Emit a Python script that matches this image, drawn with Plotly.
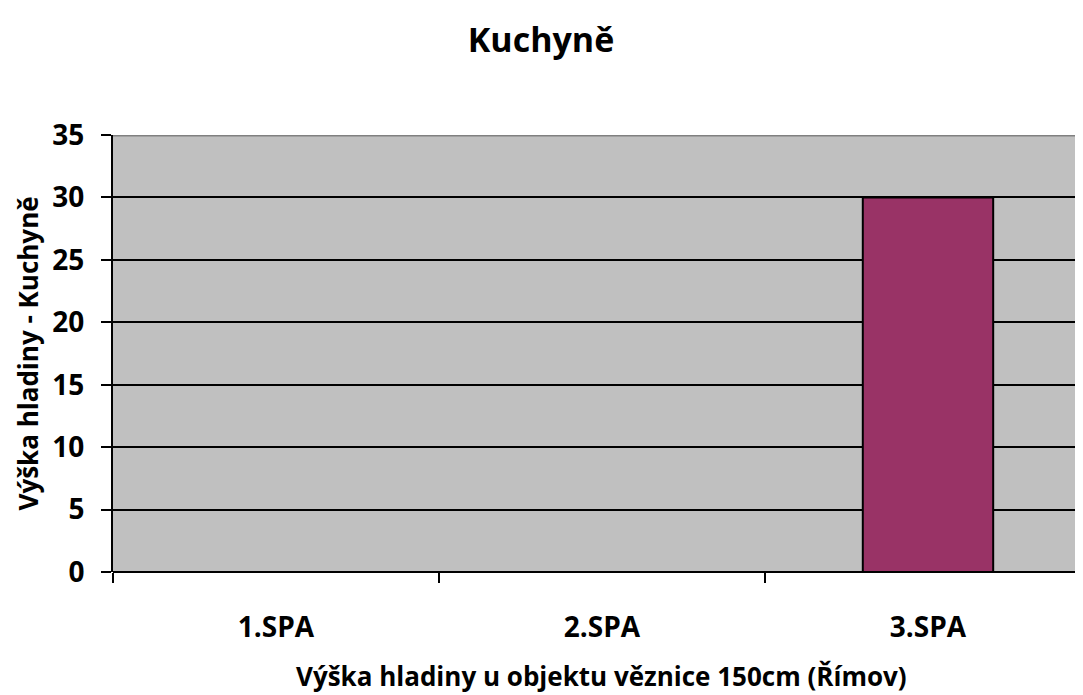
import plotly.graph_objects as go

categories = ["1.SPA", "2.SPA", "3.SPA"]
values = [0, 0, 30]
y_ticks = [0, 5, 10, 15, 20, 25, 30, 35]
title_text = "Kuchyně"
x_title = "Výška hladiny u objektu věznice 150cm (Římov)"
y_title = "Výška hladiny - Kuchyně"

FONT = "Open Sans"
W, H = 1075, 687  # page has 8px body offset; plot ends at window edge
L, T, B = 105, 127, 123

fig = go.Figure()
fig.add_trace(go.Bar(
    x=categories, y=values, width=0.4,
    marker=dict(color="#993366", line=dict(color="black", width=2)),
))

fig.update_layout(
    width=W, height=H,
    margin=dict(l=L, r=0, t=T, b=B),
    paper_bgcolor="white", plot_bgcolor="#C0C0C0",
    showlegend=False,
    font=dict(family=FONT, color="black"),
    title=dict(text="<b>" + title_text + "</b>", x=(541 - 8) / W, xanchor="center",
               y=1 - 32 / H, yanchor="middle", yref="container", xref="container",
               font=dict(size=34, family=FONT, color="black")),
    xaxis=dict(
        type="category", range=[-0.5, 2.4755], tickson="boundaries",
        ticks="outside", ticklen=10, tickwidth=2, tickcolor="black",
        showgrid=False, showline=False, zeroline=False,
        tickfont=dict(size=28, family=FONT, color="black"),
        ticklabelstandoff=36,
        tickvals=categories, ticktext=["<b>%s</b>" % c for c in categories],
        automargin=False,
    ),
    yaxis=dict(
        range=[0, 35],
        ticks="outside", ticklen=10, tickwidth=2, tickcolor="black",
        showgrid=True, gridcolor="black", gridwidth=2,
        showline=True, linecolor="black", linewidth=2,
        zeroline=True, zerolinecolor="black", zerolinewidth=2,
        tickfont=dict(size=28, family=FONT, color="black"),
        tickvals=y_ticks, ticktext=["<b>%d</b>" % v for v in y_ticks],
        ticklabelstandoff=11,
        automargin=False,
    ),
)

# axis titles
fig.add_annotation(text="<b>" + x_title + "</b>", xref="x", x=categories[1],
                   yref="paper", y=0, yanchor="middle", yshift=-(676 - 8 - (H - B)),
                   showarrow=False, font=dict(size=26, family=FONT, color="black"))
fig.add_annotation(text="<b>" + y_title + "</b>", xref="paper", x=0, xanchor="center",
                   xshift=(27 - 8) - L, yref="paper", y=0.5, yanchor="middle",
                   textangle=-90, showarrow=False,
                   font=dict(size=26, family=FONT, color="black"))

fig.add_shape(type="line", xref="paper", yref="y", x0=0, x1=1, y0=35, y1=35,
              line=dict(color="#808080", width=3), layer="above")

fig.write_html("out.html")
